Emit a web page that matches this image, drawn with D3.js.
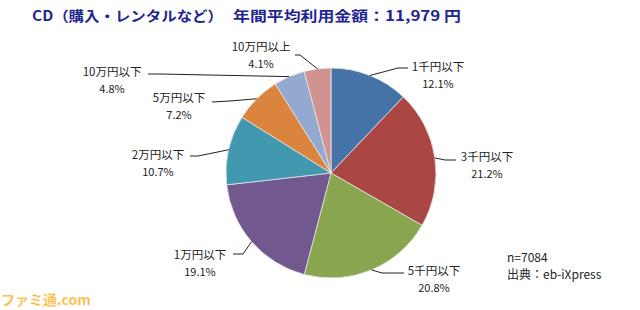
<!DOCTYPE html>
<html>
<head>
<meta charset="utf-8">
<script src="https://cdn.jsdelivr.net/npm/d3@7"></script>
<style>
  body { margin: 0; background: #fff; }
  svg { display: block; }
  text { font-family: "Noto Sans CJK JP", "DejaVu Sans", sans-serif; }
</style>
</head>
<body>
<div id="chart"></div>
<script>
// data
var categories = ["1千円以下", "3千円以下", "5千円以下", "1万円以下", "2万円以下", "5万円以下", "10万円以下", "10万円以上"];
var shares = [12.1, 21.2, 20.8, 19.1, 10.7, 7.2, 4.8, 4.1];
var sliceColors = ["#4572A7", "#AA4643", "#89A54E", "#71588F", "#4198AF", "#DB843D", "#93A9CF", "#D19392"];
var titleLeft = "CD（購入・レンタルなど）";
var titleRight = "年間平均利用金額：11,979 円";
var noteLines = ["n=7084", "出典：eb-iXpress"];

var width = 640, height = 310;
var cx = 331, cy = 173, radius = 105;

// where each label sits (centre of the two lines) and the elbow of its leader line
var labelPos = [
  {x: 438, y: 67, elbow: [398, 68], end: [408, 68]},
  {x: 487, y: 157, elbow: [445, 160], end: [456, 160]},
  {x: 434, y: 271, elbow: [382, 273], end: [404, 273]},
  {x: 200, y: 255, elbow: [243, 254], end: [233, 254]},
  {x: 158, y: 155, elbow: [198, 156], end: [190, 156]},
  {x: 179, y: 98, elbow: [230, 101], end: [212, 102]},
  {x: 112, y: 72, elbow: [160, 74], end: [148, 74]},
  {x: 261, y: 47, elbow: [300, 55], end: [295, 55]}
];

var svg = d3.select("#chart").append("svg")
    .attr("width", width)
    .attr("height", height);

// title
svg.append("text")
    .attr("x", 32).attr("y", 21)
    .attr("textLength", 191)
    .attr("lengthAdjust", "spacingAndGlyphs")
    .style("font-size", "14px").style("font-weight", "bold")
    .style("fill", "#1f2690")
    .text(titleLeft);
svg.append("text")
    .attr("x", 233).attr("y", 21)
    .attr("textLength", 228)
    .attr("lengthAdjust", "spacingAndGlyphs")
    .style("font-size", "14px").style("font-weight", "bold")
    .style("fill", "#1f2690")
    .text(titleRight);

var pie = d3.pie().sort(null).value(function(d) { return d; });
var arcs = pie(shares);
var arc = d3.arc().innerRadius(0).outerRadius(radius);

var g = svg.append("g").attr("transform", "translate(" + cx + "," + cy + ")");

g.selectAll("path")
    .data(arcs)
    .enter().append("path")
    .attr("d", arc)
    .attr("fill", function(d, i) { return sliceColors[i]; })
    .attr("stroke", "#e6e6e6")
    .attr("stroke-width", 0.8);

// leader lines from the slice rim to the labels
var edge = d3.arc().innerRadius(radius).outerRadius(radius);
svg.selectAll("polyline.leader")
    .data(arcs)
    .enter().append("polyline")
    .attr("class", "leader")
    .attr("points", function(d, i) {
      var c = edge.centroid(d);
      var p = labelPos[i];
      return [[cx + c[0], cy + c[1]], p.elbow, p.end].map(function(q) { return q.join(","); }).join(" ");
    })
    .attr("fill", "none")
    .attr("stroke", "#222")
    .attr("stroke-width", 1);

var lbl = svg.selectAll("g.lbl")
    .data(arcs)
    .enter().append("g")
    .attr("class", "lbl")
    .attr("transform", function(d, i) { return "translate(" + labelPos[i].x + "," + labelPos[i].y + ")"; });

lbl.append("text")
    .attr("text-anchor", "middle")
    .attr("y", 4)
    .style("font-size", "11.5px")
    .style("fill", "#222")
    .text(function(d, i) { return categories[i]; });

lbl.append("text")
    .attr("text-anchor", "middle")
    .attr("y", 21)
    .style("font-size", "11px")
    .style("fill", "#222")
    .text(function(d) { return d.data.toFixed(1) + "%"; });

// sample size and source
svg.selectAll("text.note")
    .data(noteLines)
    .enter().append("text")
    .attr("class", "note")
    .attr("x", 507)
    .attr("y", function(d, i) { return 262 + i * 17; })
    .style("font-size", "12px")
    .style("fill", "#222")
    .text(function(d) { return d; });

// site watermark
svg.append("text")
    .attr("x", 1).attr("y", 305)
    .style("font-size", "14px").style("font-weight", "bold")
    .style("fill", "#f3b43c")
    .style("stroke", "#fde7b8").style("stroke-width", 0.6)
    .text("ファミ通.com");
</script>
</body>
</html>
